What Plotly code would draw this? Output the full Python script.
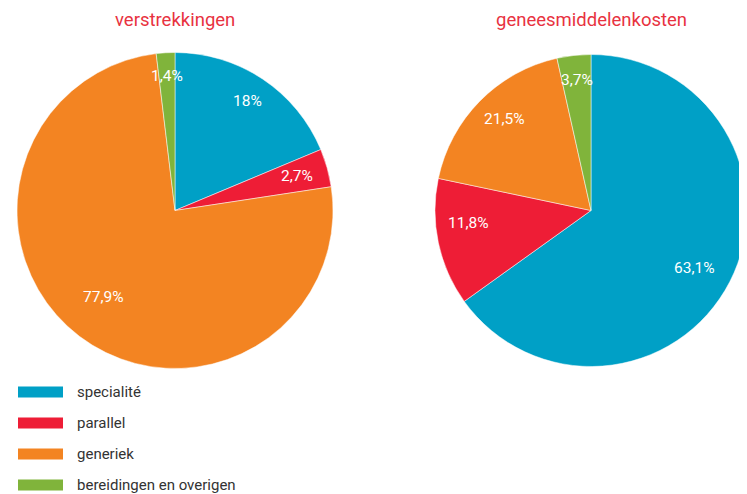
import math
import plotly.graph_objects as go

categories = ["specialité", "parallel", "generiek", "bereidingen en overigen"]
# slice sizes as drawn in the picture (shares of the circle, %)
verstrekkingen = [18.7, 3.9, 75.5, 1.9]
geneesmiddelenkosten = [65.1, 13.2, 18.2, 3.5]
# printed value labels
value_labels_left = ["18%", "2,7%", "77,9%", "1,4%"]
value_labels_right = ["63,1%", "11,8%", "21,5%", "3,7%"]
titles = ["verstrekkingen", "geneesmiddelenkosten"]

colors = ["#00A0C6", "#EE1D36", "#F38422", "#80B43B"]
OFF = 8  # page body margin offset
W, H = 747 - OFF, 494 - OFF
FONT = "Roboto"

# pie geometry in window pixels (center x, center y, radius)
pies = [
    dict(cx=175, cy=210.5, r=158),
    dict(cx=591, cy=210.5, r=156),
]
label_frac = [[0.83, 0.80, 0.71, 0.85], [0.76, 0.79, 0.81, 0.84]]
label_nudge = [[0, 0, 2.5, 0], [2, 6, 2, 0]]  # degrees


def px2x(px):
    return (px - OFF) / W


def py2y(py):
    return 1 - (py - OFF) / H


fig = go.Figure()
annotations = []
series = [verstrekkingen, geneesmiddelenkosten]
texts = [value_labels_left, value_labels_right]

for i, (vals, g) in enumerate(zip(series, pies)):
    x0 = px2x(g["cx"] - g["r"])
    x1 = min(1.0, px2x(g["cx"] + g["r"]))
    y0 = py2y(g["cy"] + g["r"])
    y1 = py2y(g["cy"] - g["r"])
    fig.add_trace(go.Pie(
        labels=categories, values=vals, sort=False, direction="clockwise",
        rotation=0, textinfo="none", hoverinfo="label",
        marker=dict(colors=colors, line=dict(color="white", width=0.5)),
        domain=dict(x=[x0, x1], y=[y0, y1]), showlegend=False,
    ))
    total = sum(vals)
    cum = 0
    for j, v in enumerate(vals):
        mid = (cum + v / 2) / total * 2 * math.pi + math.radians(label_nudge[i][j])
        cum += v
        rr = g["r"] * label_frac[i][j]
        px = g["cx"] + rr * math.sin(mid)
        py = g["cy"] - rr * math.cos(mid)
        annotations.append(dict(
            x=px2x(px), y=py2y(py), xref="paper", yref="paper",
            text=texts[i][j], showarrow=False, xanchor="center", yanchor="middle",
            font=dict(family=FONT, size=15.5, color="white"),
        ))
    annotations.append(dict(
        x=px2x(g["cx"]), y=py2y(20), xref="paper", yref="paper",
        text=titles[i], showarrow=False, xanchor="center", yanchor="middle",
        font=dict(family=FONT, size=18.5, color="#E8323F"),
    ))

# legend built from categories
shapes = []
for k, (cat, col) in enumerate(zip(categories, colors)):
    yc = 392 + 31 * k
    shapes.append(dict(type="rect", xref="paper", yref="paper",
                       x0=px2x(18), x1=px2x(63), y0=py2y(yc + 5.5), y1=py2y(yc - 5.5),
                       fillcolor=col, line=dict(width=0)))
    annotations.append(dict(
        x=px2x(75), y=py2y(yc), xref="paper", yref="paper", text=cat,
        showarrow=False, xanchor="left", yanchor="middle",
        font=dict(family=FONT, size=15, color="#333333"),
    ))

fig.update_layout(
    width=W, height=H, margin=dict(l=0, r=0, t=0, b=0),
    paper_bgcolor="white", plot_bgcolor="white",
    annotations=annotations, shapes=shapes,
)
fig.write_html("out.html")
